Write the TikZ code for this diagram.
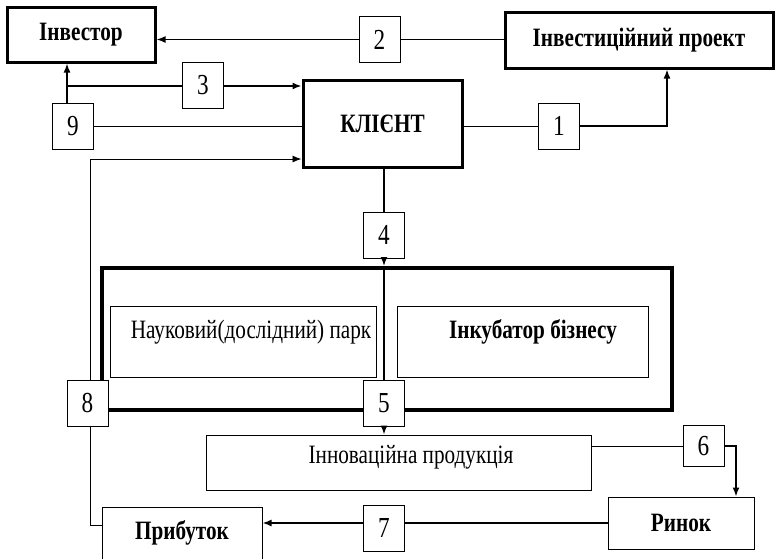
\documentclass[tikz,border=0pt]{standalone}
\usepackage{fontspec}
\setmainfont{Liberation Serif}[FakeStretch=0.8]
\usepackage{tikz}
\usetikzlibrary{arrows.meta, calc}

\begin{document}
\begin{tikzpicture}[x=1pt, y=-1pt,
    bigbox/.style={draw, line width=3pt, fill=white, inner sep=0pt, font=\fontsize{26.5}{30}\selectfont\bfseries},
    thinbox/.style={draw, line width=1pt, fill=white, inner sep=0pt, font=\fontsize{26.5}{30}\selectfont},
    numbox/.style={draw, line width=1pt, fill=white, inner sep=0pt, minimum width=41pt, minimum height=46pt, font=\fontsize{29}{32}\selectfont},
    link/.style={line width=1.6pt},
    thinlink/.style={line width=0.9pt},
    arr/.style={-{Latex[length=9pt,width=7pt]}}]
\useasboundingbox (0,0) rectangle (775,558);

% Main boxes
\node[bigbox, minimum width=148pt, minimum height=55pt] (investor) at (81,34.5) {Інвестор};
\node[bigbox, minimum width=268pt, minimum height=56pt] (project) at (639,40) {Інвестиційний проект};
\node[bigbox, minimum width=159pt, minimum height=87pt] (client) at (382.5,123.5) {КЛІЄНТ};

% Park and incubator
\node[draw, line width=4pt, minimum width=570pt, minimum height=142pt] (frame) at (387,339) {};
\node[thinbox, minimum width=266pt, minimum height=71pt] (park) at (243,341.5) {};
\node[thinbox, minimum width=251pt, minimum height=71pt] (incub) at (522.5,341.5) {};
\node[anchor=base, font=\fontsize{26.5}{30}\selectfont] (parktxt) at (251,338) {Науковий(дослідний) парк};
\node[anchor=base, font=\fontsize{26.5}{30}\selectfont\bfseries] (incubtxt) at (533,338) {Інкубатор бізнесу};

% Lower boxes
\node[thinbox, minimum width=385pt, minimum height=55pt] (innov) at (398.5,462.5) {};
\node[anchor=base, font=\fontsize{26.5}{30}\selectfont] (innovtxt) at (411,463) {Інноваційна продукція};
\node[thinbox, font=\fontsize{26.5}{30}\selectfont\bfseries, minimum width=146pt, minimum height=52pt] (market) at (681,523) {Ринок};
\node[thinbox, font=\fontsize{26.5}{30}\selectfont\bfseries, minimum width=160pt, minimum height=52pt] (profit) at (182,533) {Прибуток};

% Numbers
\node[numbox] (n1) at (559,126) {1};
\node[numbox] (n2) at (379.5,39.5) {2};
\node[numbox] (n3) at (203,85) {3};
\node[numbox] (n4) at (384,235) {4};
\node[numbox] (n5) at (384,403) {5};
\node[numbox, minimum height=41pt] (n6) at (703.5,446) {6};
\node[numbox] (n7) at (384,528) {7};
\node[numbox] (n8) at (87.5,403) {8};
\node[numbox] (n9) at (73,126) {9};

\coordinate (j9) at (67,86);
\coordinate (j8) at (90,525);
\coordinate (k8) at (90,159);

% Links
\draw[thinlink] (client.east |- n1.west) -- (n1.west);
\draw[link, arr] (n1.east) -| ([xshift=28pt]project.south);
\draw[link] (project.west |- n2.east) -- (n2.east);
\draw[link, arr] (n2.west) -- (investor.east |- n2.west);
\draw[link, arr] (n9.north -| j9) -- (investor.south -| j9);
\draw[link] (j9) -- (n3.west |- j9);
\draw[link, arr] (n3.east |- j9) -- (client.west |- j9);
\draw[thinlink] (n9.east) -- (client.west |- n9.east);
\draw[thinlink] (profit.west |- j8) -- (j8) -- (n8.south -| j8);
\draw[thinlink, arr] (n8.north -| k8) -- (k8) -- (client.west |- k8);
\draw[link] (client.south -| n4.north) -- (n4.north);
\draw[link, arr] (n4.south) -- (frame.north -| n4.south);
\draw[link] (frame.north -| n4.south) -- (n5.north);
\draw[link, arr] (n5.south) -- (innov.north -| n5.south);
\draw[thinlink] (innov.east |- n6.west) -- (n6.west);
\draw[link, arr] (n6.east) -| ([xshift=55pt]market.north);
\draw[link] (market.west) -- (n7.east |- market.west);
\draw[link, arr] (n7.west |- market.west) -- (profit.east |- market.west);

\end{tikzpicture}
\end{document}
